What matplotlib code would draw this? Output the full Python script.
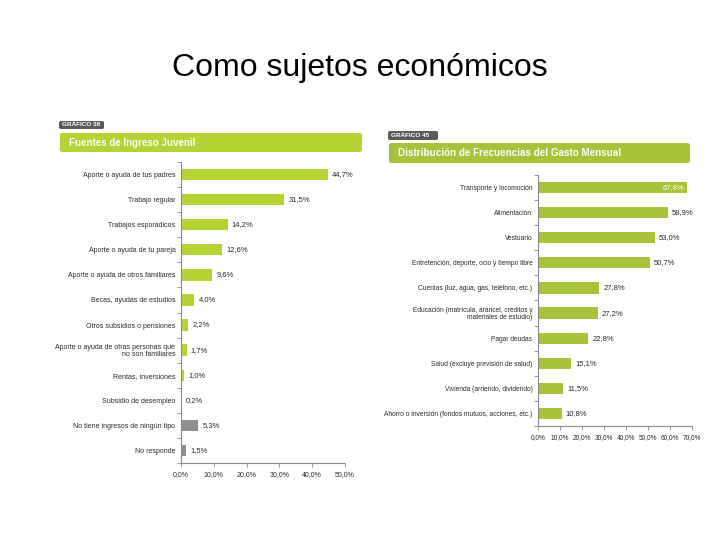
import matplotlib
matplotlib.use("Agg")
import matplotlib.pyplot as plt
from matplotlib.patches import FancyBboxPatch

# ---- data ----
left_categories = [
    "Aporte o ayuda de tus padres",
    "Trabajo regular",
    "Trabajos esporádicos",
    "Aporte o ayuda de tu pareja",
    "Aporte o ayuda de otros familiares",
    "Becas, ayudas de estudios",
    "Otros subsidios o pensiones",
    "Aporte o ayuda de otras personas que\nno son familiares",
    "Rentas, inversiones",
    "Subsidio de desempleo",
    "No tiene ingresos de ningún tipo",
    "No responde",
]
left_values = [44.7, 31.5, 14.2, 12.6, 9.6, 4.0, 2.2, 1.7, 1.0, 0.2, 5.3, 1.5]
left_is_gray = [False] * 10 + [True, True]
left_ticks = [0, 10, 20, 30, 40, 50]
left_ticklabels = ["0,0%", "10,0%", "20,0%", "30,0%", "40,0%", "50,0%"]

right_categories = [
    "Transporte y locomoción",
    "Alimentación",
    "Vestuario",
    "Entretención, deporte, ocio y tiempo libre",
    "Cuentas (luz, agua, gas, teléfono, etc.)",
    "Educación (matrícula, arancel, créditos y\nmateriales de estudio)",
    "Pagar deudas",
    "Salud (excluye previsión de salud)",
    "Vivienda (arriendo, dividendo)",
    "Ahorro o inversión (fondos mutuos, acciones, etc.)",
]
right_values = [67.8, 58.9, 53.0, 50.7, 27.8, 27.2, 22.8, 15.1, 11.5, 10.8]
right_ticks = [0, 10, 20, 30, 40, 50, 60, 70]
right_ticklabels = ["0,0%", "10,0%", "20,0%", "30,0%", "40,0%", "50,0%", "60,0%", "70,0%"]

# ---- style ----
W, H = 720, 540
FONT = ["Liberation Sans", "DejaVu Sans"]
GREEN_L = "#b5d334"
GREEN_R = "#a6c33a"
GRAY = "#8e8e8e"
TXT = "#2a2a2a"

fig = plt.figure(figsize=(7.2, 5.4), dpi=100)


def ax_px(x0, y_top, w, h):
    return fig.add_axes([x0 / W, 1 - (y_top + h) / H, w / W, h / H])


def fmt(v):
    return ("%.1f" % v).replace(".", ",") + "%"


fig.text(0.5, 1 - 68 / H, "Como sujetos económicos", ha="center", va="center",
         fontsize=23, family=FONT, color="black")


def header(x0, y0, x1, y1, label, fs, gx0, gy0, gx1, gy1, glabel, color):
    band = FancyBboxPatch((x0 / W, 1 - y1 / H), (x1 - x0) / W, (y1 - y0) / H,
                          boxstyle="round,pad=0,rounding_size=0.004",
                          transform=fig.transFigure, facecolor=color,
                          edgecolor="none")
    fig.patches.append(band)
    fig.text((x0 + 9) / W, 1 - (y0 + y1) / 2 / H, label, color="white",
             fontsize=fs, fontweight="bold", family=FONT, va="center", ha="left")
    g = FancyBboxPatch((gx0 / W, 1 - gy1 / H), (gx1 - gx0) / W, (gy1 - gy0) / H,
                       boxstyle="round,pad=0,rounding_size=0.003",
                       transform=fig.transFigure, facecolor="#5a5a5a",
                       edgecolor="none")
    fig.patches.append(g)
    fig.text((gx0 + 3) / W, 1 - (gy0 + gy1) / 2 / H, glabel, color="white",
             fontsize=4.6, fontweight="bold", family=FONT, va="center", ha="left")


header(60, 133, 362, 152, "Fuentes de Ingreso Juvenil", 7.0,
       59, 121, 104, 129, "GRÁFICO 38", GREEN_L)
header(389, 143, 690, 163, "Distribución de Frecuencias del Gasto Mensual", 7.1,
       388, 131, 438, 140, "GRÁFICO 45", GREEN_R)


def style_axes(ax, n, ticks, ticklabels, xmax, tfs):
    ax.set_xlim(0, xmax)
    ax.set_ylim(n - 0.5, -0.5)
    for s in ["top", "right"]:
        ax.spines[s].set_visible(False)
    for s in ["left", "bottom"]:
        ax.spines[s].set_color("#8a8a8a")
        ax.spines[s].set_linewidth(0.8)
    ax.set_xticks(ticks)
    ax.set_xticklabels(ticklabels, fontsize=tfs, family=FONT, color=TXT)
    ax.tick_params(axis="x", length=3, width=0.6, color="#8a8a8a", pad=3)
    ax.set_yticks([i + 0.5 for i in range(-1, n)], minor=True)
    ax.tick_params(axis="y", which="minor", length=3, width=0.6, color="#8a8a8a")
    ax.tick_params(axis="y", which="major", length=0, pad=4)
    ax.set_facecolor("none")


# ---- left chart ----
axL = ax_px(181, 162, 164, 301)
colorsL = [GRAY if g else GREEN_L for g in left_is_gray]
yL = list(range(len(left_values)))
axL.barh(yL, left_values, height=0.45, color=colorsL)
style_axes(axL, len(left_values), left_ticks, left_ticklabels, 50, 5.0)
axL.set_yticks(yL)
axL.set_yticklabels(left_categories, fontsize=5.0, family=FONT, color=TXT,
                    linespacing=0.95)
for y, v in zip(yL, left_values):
    axL.text(v + 1.3, y, fmt(v), va="center", ha="left", fontsize=5.5,
             family=FONT, color=TXT)

# ---- right chart ----
axR = ax_px(538, 175, 154, 251)
yR = list(range(len(right_values)))
axR.barh(yR, right_values, height=0.45, color=GREEN_R)
style_axes(axR, len(right_values), right_ticks, right_ticklabels, 70, 4.7)
axR.set_yticks(yR)
axR.set_yticklabels(right_categories, fontsize=4.8, family=FONT, color=TXT,
                    linespacing=0.95)
for i, (y, v) in enumerate(zip(yR, right_values)):
    if i == 0:
        axR.text(v - 1.5, y, fmt(v), va="center", ha="right", fontsize=5.5,
                 family=FONT, color="white")
    else:
        axR.text(v + 1.8, y, fmt(v), va="center", ha="left", fontsize=5.5,
                 family=FONT, color=TXT)

fig.savefig("out.png", dpi=100)
